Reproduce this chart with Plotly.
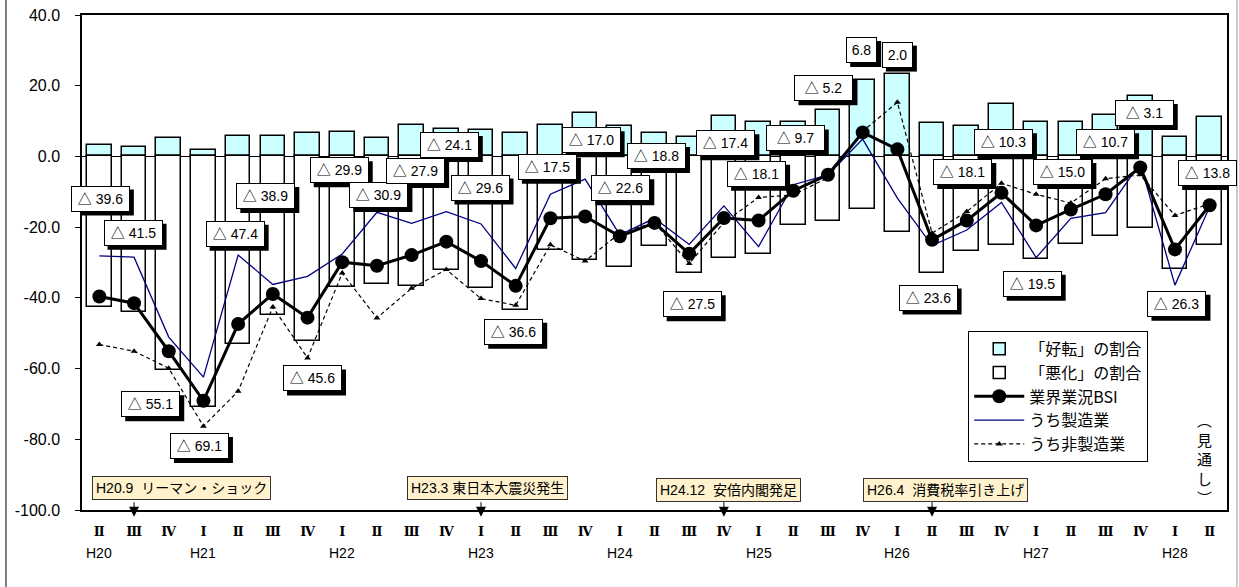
import plotly.graph_objects as go

# ---------------- data ----------------
quarters = ["Ⅱ", "Ⅲ", "Ⅳ",
            "Ⅰ", "Ⅱ", "Ⅲ", "Ⅳ",
            "Ⅰ", "Ⅱ", "Ⅲ", "Ⅳ",
            "Ⅰ", "Ⅱ", "Ⅲ", "Ⅳ",
            "Ⅰ", "Ⅱ", "Ⅲ", "Ⅳ",
            "Ⅰ", "Ⅱ", "Ⅲ", "Ⅳ",
            "Ⅰ", "Ⅱ", "Ⅲ", "Ⅳ",
            "Ⅰ", "Ⅱ", "Ⅲ", "Ⅳ",
            "Ⅰ", "Ⅱ"]
year_labels = ["H20", "H21", "H22", "H23", "H24", "H25", "H26", "H27", "H28"]
year_index = [0, 3, 7, 11, 15, 19, 23, 27, 31]

good_share = [3.1, 2.6, 5.3, 1.7, 5.7, 5.9, 6.6, 6.9, 5.2, 8.8, 7.9, 7.6, 6.7,
              8.9, 12.2, 8.6, 6.6, 5.6, 11.3, 9.6, 9.6, 13.0, 21.6, 23.4, 9.4,
              8.6, 14.7, 9.6, 9.7, 11.7, 17.0, 5.6, 11.2]
bad_share = [42.7, 44.1, 60.4, 70.8, 53.1, 44.8, 52.2, 36.8, 36.1, 36.7, 32.0,
             37.2, 43.3, 26.4, 29.2, 31.2, 25.4, 33.1, 28.7, 27.7, 19.3, 18.2,
             14.8, 21.4, 33.0, 26.7, 25.0, 29.1, 24.7, 22.4, 20.1, 31.9, 25.0]
bsi = [-39.6, -41.5, -55.1, -69.1, -47.4, -38.9, -45.6, -29.9, -30.9, -27.9,
       -24.1, -29.6, -36.6, -17.5, -17.0, -22.6, -18.8, -27.5, -17.4, -18.1,
       -9.7, -5.2, 6.8, 2.0, -23.6, -18.1, -10.3, -19.5, -15.0, -10.7, -3.1,
       -26.3, -13.8]
manufacturing = [-28.1, -28.5, -51.1, -62.4, -27.9, -36.2, -33.9, -27.6, -15.8,
                 -18.9, -15.6, -19.1, -31.7, -10.7, -6.4, -22.2, -17.5, -24.9,
                 -14.0, -25.5, -8.0, -5.2, 4.9, -11.8, -25.2, -20.8, -13.0,
                 -28.6, -17.5, -15.9, -1.9, -36.4, -14.2]
non_manufacturing = [-53.2, -55.1, -59.9, -76.3, -66.4, -42.6, -57.0, -33.0,
                     -45.7, -37.3, -32.0, -40.2, -42.1, -25.0, -29.6, -21.7,
                     -18.7, -30.3, -18.7, -11.6, -10.9, -6.0, 7.1, 15.3, -21.7,
                     -15.6, -7.6, -10.7, -13.2, -6.3, -5.2, -16.7, -13.4]

events = ["H20.9  リーマン・ショック", "H23.3 東日本大震災発生",
          "H24.12  安倍内閣発足", "H26.4  消費税率引き上げ"]
event_index = [1, 11, 18, 24]

y_tickvals = [40, 20, 0, -20, -40, -60, -80, -100]
y_ticktext = ["40.0", "20.0", "0.0", "-20.0", "-40.0", "-60.0", "-80.0", "-100.0"]

# ---------------- layout helpers (positions only) ----------------
label_y = [-11.9, -21.6, -70.1, -81.9, -21.9, -11.2, -62.8, -3.9, -10.9, -4.1,
           3.2, -8.8, -49.6, -2.9, 4.6, -9.0, 0.1, -41.8, 3.7, -4.9, 5.1, 19.3,
           30.1, 28.8, -39.9, -4.4, 4.0, -36.0, -4.4, 4.0, 12.3, -41.7, -4.7]
label_dx = [1, -1, -18, -4, -3, -7, 5, -3, 2, 4, 3, -1, -2, -3, 6, 1, 2, 3, 2,
            -2, 2, -4, -1, 0, -4, -4, 2, -4, -8, 0, 4, 2, -2]
event_box_x = [2.36, 11.2, 18.12, 24.39]
event_box_y = [0.044, 0.044, 0.040, 0.040]

x = list(range(len(quarters)))
FONT = "Liberation Sans, Arial, Noto Sans CJK JP, sans-serif"
JFONT = "Noto Sans CJK JP, sans-serif"

fig = go.Figure()
fig.add_trace(go.Bar(x=x, y=good_share, name="「好転」の割合", width=0.71,
                     marker=dict(color="#CCFFFF", line=dict(color="black", width=1.5)),
                     legendrank=1))
fig.add_trace(go.Bar(x=x, y=[-v for v in bad_share], name="「悪化」の割合", width=0.71,
                     marker=dict(color="white", line=dict(color="black", width=1.5)),
                     legendrank=2))
fig.add_trace(go.Scatter(x=x, y=non_manufacturing, name="うち非製造業", mode="lines+markers",
                         line=dict(color="black", width=1.2, dash="4px,3px"),
                         marker=dict(symbol="triangle-up", size=6, color="black"),
                         legendrank=5))
fig.add_trace(go.Scatter(x=x, y=manufacturing, name="うち製造業", mode="lines",
                         line=dict(color="#000080", width=1.3), legendrank=4))
fig.add_trace(go.Scatter(x=x, y=bsi, name="業界業況BSI", mode="lines+markers",
                         line=dict(color="black", width=3),
                         marker=dict(symbol="circle", size=14, color="black"),
                         legendrank=3))

ann = []
shapes = []
# value labels, each with a drop shadow drawn as a pixel-sized shape
for i, v in enumerate(bsi):
    txt = ("△ " + f"{abs(v):.1f}") if v < 0 else f"{v:.1f}"
    w = 51 if v < 0 else 23
    half_w = (w + 8) / 2
    shapes.append(dict(type="rect", xref="x", yref="y", layer="above",
                       xsizemode="pixel", ysizemode="pixel",
                       xanchor=i, yanchor=label_y[i],
                       x0=label_dx[i] + 4 - half_w, x1=label_dx[i] + 4 + half_w,
                       y0=-4 - 13, y1=-4 + 13,
                       fillcolor="black", line=dict(width=0)))
    ann.append(dict(
        x=i, y=label_y[i], xref="x", yref="y", text=txt, showarrow=False,
        xanchor="center", yanchor="middle", xshift=label_dx[i],
        width=w, height=18, borderpad=3, borderwidth=1,
        bordercolor="black", bgcolor="white",
        font=dict(family=FONT, size=14, color="black")))

# event boxes and arrows
for k, ev in enumerate(events):
    ann.append(dict(x=event_box_x[k], y=event_box_y[k], xref="x", yref="paper",
                    text=ev, showarrow=False, bgcolor="#FFF2CC", bordercolor="#333333",
                    borderwidth=1, borderpad=3, xanchor="center", yanchor="middle",
                    font=dict(family=FONT, size=14, color="black")))
    ann.append(dict(x=event_index[k], y=-0.0135, xref="x", yref="paper", text="",
                    showarrow=True, ax=0, ay=-16, arrowhead=2, arrowsize=2,
                    arrowwidth=1, arrowcolor="black"))

# year labels
for yl, yi in zip(year_labels, year_index):
    ann.append(dict(x=yi, y=-0.0875, xref="x", yref="paper", text=yl, showarrow=False,
                    xanchor="center", yanchor="middle",
                    font=dict(family=FONT, size=14, color="black")))

# vertical note
ann.append(dict(x=0.98, y=0.105, xref="paper", yref="paper",
                text="︵<br>見<br>通<br>し<br>︶", showarrow=False,
                xanchor="center", yanchor="middle",
                font=dict(family=JFONT, size=15, color="black")))
# unit note (cut off at top, as in the source)
ann.append(dict(x=0.837, y=1.0242, xref="paper", yref="paper",
                xanchor="center", yanchor="bottom",
                text="（単位：％ポイント）", showarrow=False,
                font=dict(family=JFONT, size=14, color="black")))

shapes += [
    dict(type="line", xref="paper", yref="paper", x0=-0.0664, x1=-0.0664, y0=-0.3, y1=1.2,
         line=dict(color="#555555", width=1.5)),
    dict(type="line", xref="paper", yref="paper", x0=1.0087, x1=1.0087, y0=-0.3, y1=1.2,
         line=dict(color="#BBBBBB", width=1.5)),
]

fig.update_layout(
    width=1239, height=587,
    margin=dict(l=82, r=12, t=15, b=77, autoexpand=False),
    paper_bgcolor="white", plot_bgcolor="white",
    barmode="overlay", bargap=0,
    showlegend=True,
    legend=dict(x=0.774, y=0.362, xanchor="left", yanchor="top",
                bordercolor="black", borderwidth=1, bgcolor="white",
                font=dict(family=JFONT, size=16, color="black"),
                traceorder="normal", tracegroupgap=0, itemwidth=50),
    annotations=ann, shapes=shapes,
    font=dict(family=FONT, color="black"),
)
fig.update_xaxes(range=[-0.5, len(quarters) - 0.5], tickvals=x,
                 ticktext=["<b>" + q + "</b>" for q in quarters],
                 showline=True, linecolor="black", linewidth=1.5, mirror=True,
                 showgrid=False, zeroline=False, ticks="", automargin=False,
                 tickfont=dict(family="DejaVu Serif, Noto Sans CJK JP", size=13, color="black"),
                 ticklabelstandoff=9)
fig.update_yaxes(range=[-100, 40], tickvals=y_tickvals, ticktext=y_ticktext,
                 showline=True, linecolor="black", linewidth=1.5, mirror=True,
                 showgrid=False, zeroline=True, zerolinecolor="black", zerolinewidth=1.2,
                 ticks="outside", ticklen=5, tickcolor="black", automargin=False,
                 tickfont=dict(family=FONT, size=16, color="black"),
                 ticklabelstandoff=12)

fig.write_html("out.html", config={"displayModeBar": False},
               post_script="document.body.style.margin='0';document.body.style.padding='0';")
